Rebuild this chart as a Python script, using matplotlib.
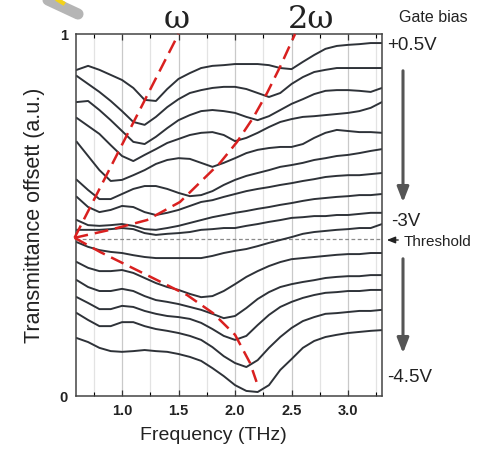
import numpy as np
import matplotlib
matplotlib.use("Agg")
import matplotlib.pyplot as plt
from matplotlib.lines import Line2D

plt.rcParams['font.family'] = ['Liberation Sans', 'DejaVu Sans']

# frequency grid (THz), shared by all traces
freq = [0.6, 0.7, 0.8, 0.9, 1.0, 1.1, 1.2, 1.3, 1.4, 1.5, 1.6, 1.7, 1.8, 1.9,
        2.0, 2.1, 2.2, 2.3, 2.4, 2.5, 2.6, 2.7, 2.8, 2.9, 3.0, 3.1, 3.2, 3.3]

# transmittance traces (offset, a.u.), top = +0.5V, bottom = -4.5V
trace_01 = [0.901, 0.912, 0.901, 0.887, 0.873, 0.851, 0.818, 0.815, 0.848, 0.876, 0.892, 0.906, 0.912, 0.914,
            0.917, 0.917, 0.917, 0.914, 0.906, 0.903, 0.923, 0.942, 0.959, 0.967, 0.970, 0.972, 0.975, 0.975]
trace_02 = [0.884, 0.862, 0.840, 0.815, 0.787, 0.757, 0.749, 0.771, 0.798, 0.820, 0.837, 0.845, 0.851, 0.854,
            0.854, 0.848, 0.837, 0.826, 0.837, 0.862, 0.881, 0.895, 0.901, 0.906, 0.906, 0.906, 0.906, 0.906]
trace_03 = [0.812, 0.815, 0.790, 0.762, 0.732, 0.702, 0.696, 0.716, 0.740, 0.762, 0.776, 0.787, 0.790, 0.787,
            0.782, 0.771, 0.762, 0.773, 0.790, 0.807, 0.820, 0.834, 0.843, 0.845, 0.845, 0.843, 0.840, 0.851]
trace_04 = [0.768, 0.746, 0.724, 0.693, 0.663, 0.649, 0.666, 0.682, 0.699, 0.710, 0.721, 0.727, 0.729, 0.721,
            0.704, 0.713, 0.727, 0.743, 0.757, 0.765, 0.771, 0.773, 0.776, 0.779, 0.782, 0.787, 0.796, 0.812]
trace_05 = [0.702, 0.663, 0.624, 0.594, 0.597, 0.610, 0.624, 0.641, 0.652, 0.657, 0.655, 0.644, 0.633, 0.644,
            0.657, 0.671, 0.680, 0.685, 0.688, 0.688, 0.696, 0.713, 0.727, 0.735, 0.732, 0.729, 0.729, 0.727]
trace_06 = [0.597, 0.569, 0.544, 0.544, 0.558, 0.572, 0.580, 0.580, 0.572, 0.561, 0.552, 0.555, 0.566, 0.583,
            0.597, 0.608, 0.616, 0.624, 0.633, 0.638, 0.644, 0.652, 0.657, 0.663, 0.666, 0.671, 0.677, 0.682]
trace_07 = [0.550, 0.522, 0.508, 0.514, 0.525, 0.522, 0.508, 0.500, 0.506, 0.514, 0.525, 0.536, 0.541, 0.550,
            0.558, 0.566, 0.572, 0.577, 0.583, 0.588, 0.594, 0.599, 0.605, 0.608, 0.610, 0.610, 0.613, 0.616]
trace_08 = [0.486, 0.472, 0.470, 0.472, 0.475, 0.470, 0.461, 0.459, 0.464, 0.470, 0.478, 0.486, 0.494, 0.500,
            0.506, 0.511, 0.517, 0.522, 0.528, 0.533, 0.539, 0.544, 0.547, 0.550, 0.552, 0.555, 0.555, 0.558]
trace_09 = [0.459, 0.459, 0.459, 0.461, 0.464, 0.461, 0.450, 0.445, 0.448, 0.450, 0.453, 0.459, 0.461, 0.464,
            0.464, 0.470, 0.475, 0.481, 0.486, 0.492, 0.494, 0.497, 0.497, 0.500, 0.500, 0.503, 0.506, 0.506]
trace_10 = [0.425, 0.412, 0.403, 0.398, 0.395, 0.389, 0.384, 0.381, 0.381, 0.381, 0.381, 0.381, 0.387, 0.395,
            0.401, 0.406, 0.414, 0.423, 0.431, 0.439, 0.448, 0.453, 0.456, 0.459, 0.461, 0.464, 0.464, 0.475]
trace_11 = [0.370, 0.354, 0.345, 0.345, 0.348, 0.340, 0.326, 0.312, 0.301, 0.293, 0.282, 0.273, 0.276, 0.290,
            0.309, 0.329, 0.345, 0.359, 0.370, 0.378, 0.381, 0.384, 0.387, 0.390, 0.392, 0.392, 0.395, 0.395]
trace_12 = [0.320, 0.301, 0.290, 0.290, 0.296, 0.290, 0.276, 0.265, 0.260, 0.254, 0.246, 0.238, 0.227, 0.215,
            0.221, 0.243, 0.268, 0.287, 0.301, 0.309, 0.315, 0.320, 0.326, 0.329, 0.331, 0.331, 0.334, 0.334]
trace_13 = [0.273, 0.257, 0.240, 0.240, 0.249, 0.246, 0.235, 0.227, 0.221, 0.218, 0.213, 0.202, 0.185, 0.166,
            0.155, 0.166, 0.196, 0.224, 0.246, 0.260, 0.271, 0.279, 0.285, 0.287, 0.290, 0.290, 0.293, 0.293]
trace_14 = [0.229, 0.210, 0.193, 0.193, 0.204, 0.204, 0.193, 0.185, 0.180, 0.174, 0.166, 0.155, 0.135, 0.110,
            0.091, 0.080, 0.099, 0.133, 0.163, 0.188, 0.207, 0.218, 0.227, 0.229, 0.232, 0.235, 0.235, 0.238]
trace_15 = [0.160, 0.149, 0.133, 0.124, 0.122, 0.124, 0.127, 0.124, 0.122, 0.116, 0.108, 0.097, 0.077, 0.055,
            0.030, 0.014, 0.011, 0.030, 0.072, 0.102, 0.133, 0.152, 0.163, 0.169, 0.174, 0.177, 0.180, 0.182]
traces = [trace_01, trace_02, trace_03, trace_04, trace_05, trace_06, trace_07, trace_08,
          trace_09, trace_10, trace_11, trace_12, trace_13, trace_14, trace_15]

# red guide lines (mode dispersion)
omega_x = [0.58, 1.50]
omega_y = [0.437, 1.0]
two_omega_x = [0.58, 0.894, 1.221, 1.513, 1.867, 2.018, 2.159, 2.283, 2.398, 2.531]
two_omega_y = [0.437, 0.459, 0.486, 0.536, 0.644, 0.702, 0.768, 0.837, 0.909, 1.0]
low_x = [0.58, 0.805, 1.221, 1.575, 1.805, 2.000, 2.133, 2.190]
low_y = [0.437, 0.398, 0.334, 0.279, 0.229, 0.169, 0.091, 0.039]

threshold = 0.434

W, H = 480, 451
fig = plt.figure(figsize=(W / 100, H / 100), dpi=100)
ax = fig.add_axes([76 / W, 1 - 396 / H, 306 / W, 362 / H])

# light vertical grid every 0.25 THz
for xv in np.arange(0.75, 3.3, 0.25):
    major = abs(xv * 2 - round(xv * 2)) < 1e-6
    ax.axvline(xv, color='#c9c9c9' if major else '#e3e3e3', lw=0.9, zorder=0)

for tr in traces:
    ax.plot(freq, tr, color='#2e3238', lw=1.4, zorder=2, solid_joinstyle='round')

ax.axhline(threshold, color='#8a8a8a', lw=0.9, ls=(0, (3, 2)), zorder=1)

red_kw = dict(color='#d9201f', lw=1.8, ls=(0, (5.5, 2.8)), zorder=3, clip_on=False)
ax.plot(omega_x, omega_y, **red_kw)
ax.plot(two_omega_x, two_omega_y, **red_kw)
ax.plot(low_x, low_y, **red_kw)

ax.set_xlim(0.593, 3.30)
ax.set_ylim(0, 1)
ax.set_xticks([1.0, 1.5, 2.0, 2.5, 3.0])
ax.set_xticks(np.arange(0.75, 3.3, 0.25), minor=True)
ax.set_yticks([0, 1])
ax.set_yticklabels(['0', '1'])
ax.tick_params(axis='both', direction='in', top=True, length=4, width=0.9,
               colors='#333333', labelsize=10.5, pad=6)
ax.tick_params(axis='x', which='minor', direction='in', top=True, length=3, width=0.8)
ax.tick_params(axis='y', length=0)
for lab in ax.get_xticklabels() + ax.get_yticklabels():
    lab.set_fontweight('bold')
    lab.set_color('#222222')
for sp in ax.spines.values():
    sp.set_color('#444444')
    sp.set_linewidth(1.1)

ax.set_xlabel('Frequency (THz)', fontsize=14, color='#222222')
ax.set_ylabel('Transmittance offsett (a.u.)', fontsize=15.5, color='#222222')
ax.xaxis.set_label_coords(0.45, -0.085)
ax.yaxis.set_label_coords(-0.1, 0.5)


def fx(px):
    return px / W


def fy(py):
    return 1 - py / H


fig.text(fx(177), fy(20), 'ω', fontsize=23, family='DejaVu Serif', ha='center', va='center', color='#222222')
fig.text(fx(311), fy(20), '2ω', fontsize=23, family='DejaVu Serif', ha='center', va='center', color='#222222')
fig.text(fx(433), fy(18), 'Gate bias', fontsize=11.5, ha='center', va='center', color='#222222')
fig.text(fx(387), fy(46), '+0.5V', fontsize=13.5, ha='left', va='center', color='#222222')
fig.text(fx(391), fy(221), '-3V', fontsize=13.5, ha='left', va='center', color='#222222')
fig.text(fx(404), fy(242), 'Threshold', fontsize=11, ha='left', va='center', color='#222222')
fig.text(fx(387), fy(377), '-4.5V', fontsize=13.5, ha='left', va='center', color='#222222')

arrow_kw = dict(arrowstyle='-|>,head_width=0.35,head_length=0.9', color='#555555', lw=2.2)
ax.annotate('', xy=(fx(403), fy(205)), xytext=(fx(403), fy(68)),
            xycoords='figure fraction', arrowprops=arrow_kw, annotation_clip=False)
ax.annotate('', xy=(fx(403), fy(356)), xytext=(fx(403), fy(256)),
            xycoords='figure fraction', arrowprops=arrow_kw, annotation_clip=False)
ax.annotate('', xy=(fx(384), fy(240)), xytext=(fx(401), fy(240)),
            xycoords='figure fraction',
            arrowprops=dict(arrowstyle='-|>,head_width=0.2,head_length=0.5', color='#222222', lw=1.0),
            annotation_clip=False)

# pencil smudge in the top-left corner of the original
fig.add_artist(Line2D([fx(48), fx(78)], [fy(0), fy(14)], color='#b5b5b5', lw=8,
                      solid_capstyle='round', transform=fig.transFigure))
fig.add_artist(Line2D([fx(58), fx(63)], [fy(0), fy(3)], color='#f2d21b', lw=3,
                      transform=fig.transFigure))

fig.savefig('out.png', dpi=100)
